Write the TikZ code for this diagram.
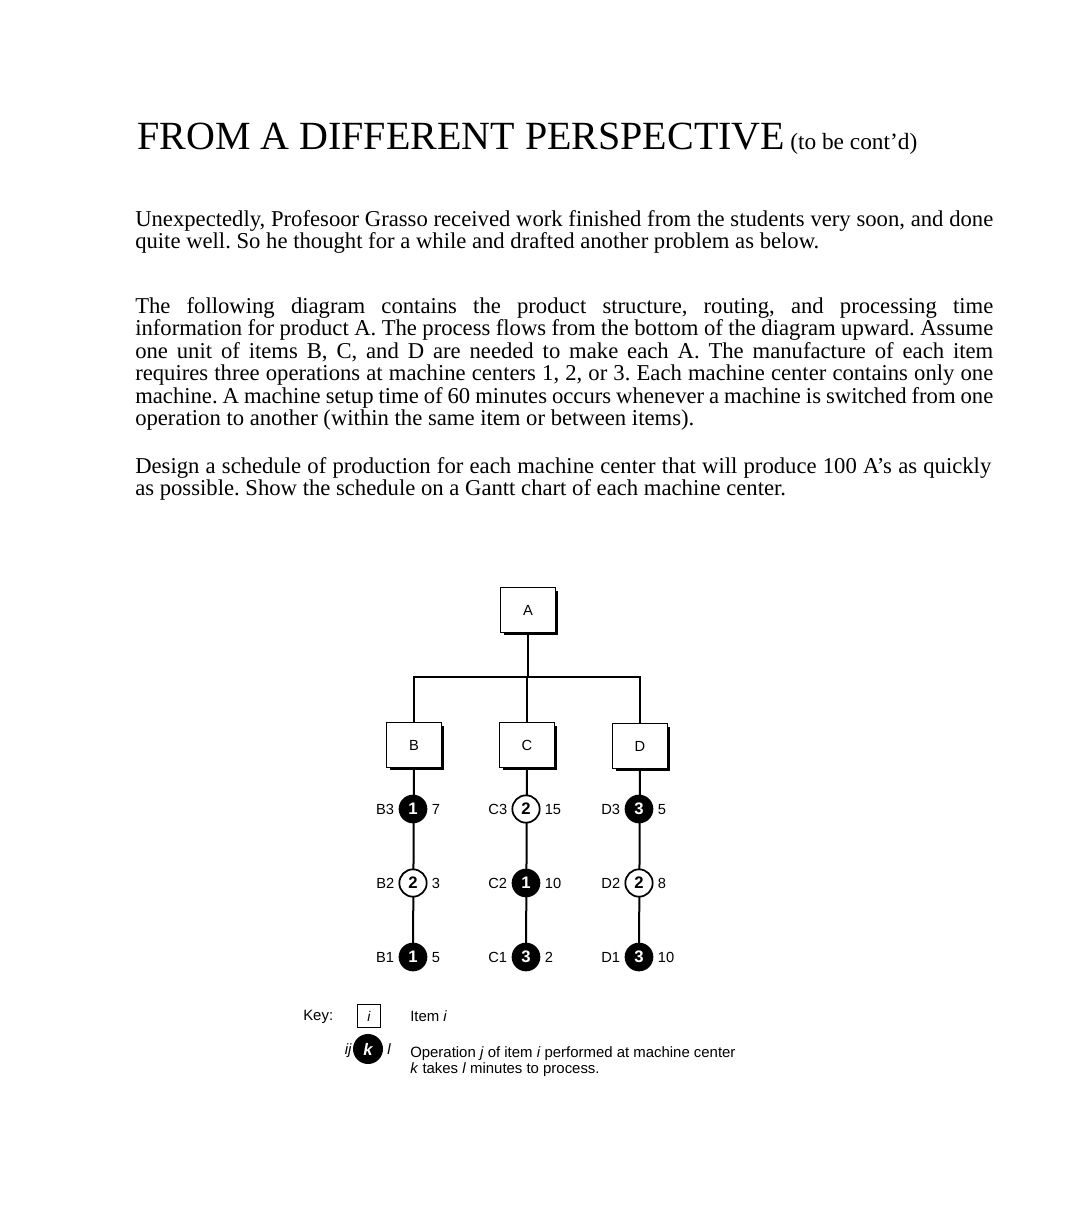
\documentclass[tikz,border=0pt]{standalone}
\usepackage{fontspec}
\setmainfont{Liberation Serif}
\setsansfont{Liberation Sans}
\usetikzlibrary{shadows,backgrounds}
\frenchspacing
\newcommand{\jl}[1]{\makebox[643.5pt][s]{#1}}
\begin{document}
\begin{tikzpicture}[x=0.75pt,y=-0.75pt,
  body/.style={anchor=base west, inner sep=0pt, font=\fontsize{17}{18}\selectfont},
  ttl/.style={anchor=base west, inner sep=0pt, font=\fontsize{30}{32}\selectfont},
  itembox/.style={draw, line width=1.2pt, fill=white, minimum width=41pt, minimum height=33.5pt,
     inner sep=0pt, font=\sffamily\fontsize{11}{12}\selectfont,
     general shadow={shadow xshift=2.2pt, shadow yshift=-2.2pt, fill=black}},
  opfill/.style={circle, fill=black, text=white, minimum size=21.5pt, inner sep=0pt,
     font=\sffamily\bfseries\fontsize{12.5}{12}\selectfont},
  opopen/.style={circle, draw, line width=1.3pt, fill=white, minimum size=20.5pt, inner sep=0pt,
     font=\sffamily\bfseries\fontsize{12.5}{12}\selectfont},
  lab/.style={inner sep=0pt, font=\sffamily\fontsize{11}{12}\selectfont},
  keytxt/.style={inner sep=0pt, font=\sffamily\fontsize{11.2}{12.5}\selectfont},
  conn/.style={line width=1.5pt}]
\useasboundingbox (0,0) rectangle (1080,1217);

% Title
\node[ttl] (title) at (137,149) {FROM A DIFFERENT PERSPECTIVE};
\node[anchor=base west, inner sep=0pt, font=\fontsize{17.5}{19}\selectfont] (cont) at (790,149) {(to be cont’d)};

% Paragraph 1
\node[body] (p1a) at (135,226) {\jl{Unexpectedly, Profesoor Grasso received work finished from the students very soon, and done}};
\node[body] (p1b) at (135,248.5) {quite well. So he thought for a while and drafted another problem as below.};

% Paragraph 2
\node[body] (p2a) at (135,313) {\jl{The following diagram contains the product structure, routing, and processing time}};
\node[body] (p2b) at (135,335.5) {\jl{information for product A. The process flows from the bottom of the diagram upward. Assume}};
\node[body] (p2c) at (135,358) {\jl{one unit of items B, C, and D are needed to make each A. The manufacture of each item}};
\node[body] (p2d) at (135,380.5) {\jl{requires three operations at machine centers 1, 2, or 3. Each machine center contains only one}};
\node[body] (p2e) at (135,403) {\jl{machine. A machine setup time of 60 minutes occurs whenever a machine is switched from one}};
\node[body] (p2f) at (135,425.5) {operation to another (within the same item or between items).};

% Paragraph 3
\node[body] (p3a) at (135,473) {\makebox[642pt][s]{Design a schedule of production for each machine center that will produce 100 A’s as quickly}};
\node[body] (p3b) at (135,495.5) {as possible. Show the schedule on a Gantt chart of each machine center.};

% Items
\node[itembox] (A) at (528,610) {A};
\node[itembox] (B) at (414,745) {B};
\node[itembox] (C) at (527,745) {C};
\node[itembox] (D) at (640,746) {D};
\coordinate (bus) at (528,677);

% Operations
\node[opfill] (b3) at (413,809) {1};
\node[opopen] (b2) at (413,883) {2};
\node[opfill] (b1) at (413,957) {1};
\node[opopen] (c3) at (526,809) {2};
\node[opfill] (c2) at (526,883) {1};
\node[opfill] (c1) at (526,957) {3};
\node[opfill] (d3) at (639,809) {3};
\node[opopen] (d2) at (639,883) {2};
\node[opfill] (d1) at (639,957) {3};

\foreach \n/\t/\m in {b3/B3/7, b2/B2/3, b1/B1/5, c3/C3/15, c2/C2/10, c1/C1/2, d3/D3/5, d2/D2/8, d1/D1/10}{
  \node[lab, anchor=base east] (\n l) at ([xshift=-3pt, yshift=-3.95pt]\n.center -| \n.west) {\t};
  \node[lab, anchor=base west] (\n r) at ([xshift=3pt, yshift=-3.95pt]\n.center -| \n.east) {\m};
}

\begin{scope}[on background layer]
\draw[conn] (A.south) -- (A.south |- bus);
\draw[conn] (B.north) |- (bus) -| (D.north);
\draw[conn] (C.north) -- (C.north |- bus);
\draw[conn] (B.south) -- (b1.center);
\draw[conn] (C.south) -- (c1.center);
\draw[conn] (D.south) -- (d1.center);
\end{scope}

% Key
\node[keytxt, anchor=base west] (key) at (303,1020) {Key:};
\node[draw, line width=1pt, minimum size=17.5pt, inner sep=0pt, font=\sffamily\itshape\fontsize{10.5}{12}\selectfont] (keybox) at (369,1016) {i};
\node[keytxt, anchor=base west] (keyitem) at (410,1021) {Item \textit{i}};
\node[circle, fill=black, text=white, minimum size=22.5pt, inner sep=0pt, font=\sffamily\bfseries\itshape\fontsize{12.5}{12}\selectfont] (keyop) at (368,1049) {k};
\node[keytxt, anchor=base east] (keyij) at (352,1054) {\textit{ij}};
\node[keytxt, anchor=base west] (keyl) at (387,1054) {\textit{l}};
\node[keytxt, anchor=base west] (keydesc1) at (410,1057) {Operation \textit{j} of item \textit{i} performed at machine center};
\node[keytxt, anchor=base west] (keydesc2) at (410,1073) {\textit{k} takes \textit{l} minutes to process.};
\end{tikzpicture}
\end{document}
